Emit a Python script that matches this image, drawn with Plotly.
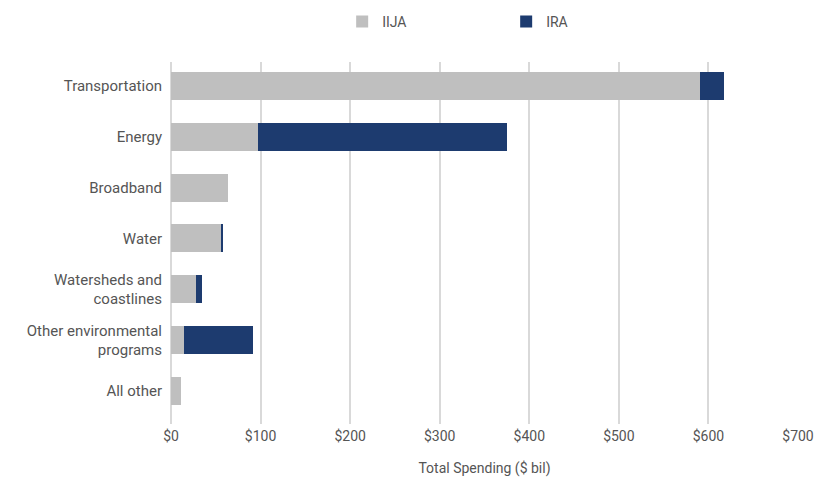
import plotly.graph_objects as go

categories = ["Transportation", "Energy", "Broadband", "Water",
              "Watersheds and<br>coastlines", "Other environmental<br>programs", "All other"]
iija = [591, 97, 63.5, 56, 28, 14, 11]
ira = [26, 278, 0, 1.5, 7, 77, 0]
x_ticks = [0, 100, 200, 300, 400, 500, 600, 700]
x_tick_labels = ["$0", "$100", "$200", "$300", "$400", "$500", "$600", "$700"]

fig = go.Figure()
fig.add_trace(go.Bar(y=categories, x=iija, name="IIJA", orientation="h",
                     marker=dict(color="#bfbfbf", line=dict(width=0))))
fig.add_trace(go.Bar(y=categories, x=ira, name="IRA", orientation="h",
                     marker=dict(color="#1d3b6f", line=dict(width=0))))

fig.update_layout(
    barmode="stack",
    bargap=0.45,
    width=837, height=481,
    margin=dict(l=163, r=47, t=54, b=65, autoexpand=False),
    paper_bgcolor="white", plot_bgcolor="white",
    font=dict(family="Roboto", size=14, color="#555555"),
    legend=dict(orientation="h", x=0.273, xanchor="left", y=1.155, yanchor="top",
                yref="paper", entrywidth=119, font=dict(size=14, color="#555555"),
                traceorder="normal", itemwidth=30),
    showlegend=True,
)
fig.update_xaxes(range=[0, 700], tickvals=x_ticks, ticktext=x_tick_labels,
                 showgrid=True, gridcolor="#d9d9d9", gridwidth=1.5,
                 zeroline=True, zerolinecolor="#d9d9d9", zerolinewidth=1.5,
                 showline=False, ticks="", ticklabelstandoff=2, automargin=False,
                 tickfont=dict(size=14, color="#555555"),
                 title=dict(text="Total Spending ($ bil)", font=dict(size=14, color="#555555"), standoff=20))
fig.update_yaxes(range=[6.65, -0.47], showgrid=False, ticks="", ticklabelstandoff=8,
                 automargin=False, tickfont=dict(size=15, color="#555555"))

fig.write_html("out.html")
